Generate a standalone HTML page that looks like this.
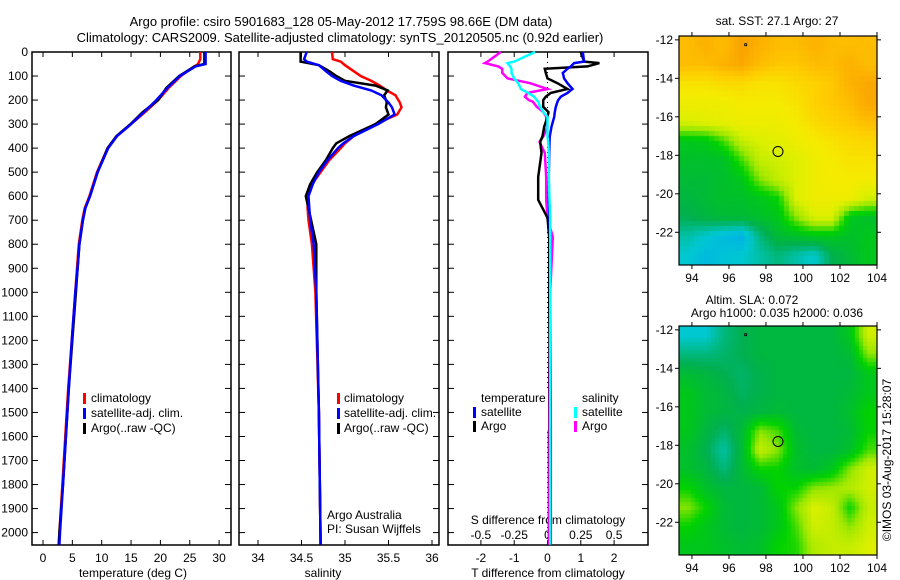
<!DOCTYPE html>
<html><head><meta charset="utf-8">
<style>
html,body{margin:0;padding:0;background:#fff;}
body{width:900px;height:580px;overflow:hidden;position:relative;font-family:"Liberation Sans",sans-serif;}
svg{position:absolute;left:0;top:0;}
canvas{position:absolute;}
text{font-family:"Liberation Sans",sans-serif;font-size:12px;fill:#000;}
</style></head>
<body>
<canvas id="map1" width="198" height="229" style="left:679px;top:36px"></canvas>
<canvas id="map2" width="198" height="229" style="left:679px;top:326px"></canvas>
<svg id="fig" width="900" height="580"></svg>
<script>
// ---------- data ----------
const tDepth = [0,30,50,60,100,150,200,250,300,350,400,500,600,650,700,800,900,1000,1200,1400,1600,1800,2000,2050];
const tClim  = [26.8,26.8,26.4,25.8,23.5,21.4,19.6,17.4,15.0,12.6,11.0,9.2,7.9,7.1,6.7,6.1,5.8,5.5,4.9,4.3,3.8,3.3,2.8,2.7];
const tSat   = [27.7,27.7,27.7,26.0,23.3,21.2,19.3,17.2,15.0,12.6,11.1,9.3,8.0,7.2,6.8,6.2,5.9,5.5,4.9,4.4,3.9,3.4,2.9,2.8];
const tArgo  = [27.5,27.5,27.5,25.8,23.2,21.0,19.6,17.0,14.9,12.5,11.0,9.3,8.0,7.2,6.8,6.2,5.9,5.6,5.0,4.4,3.9,3.4,2.8,2.7];

const sDepth = [0,30,40,55,80,100,120,140,160,180,210,230,260,300,350,380,400,450,500,550,600,650,700,800,1000,1500,2050];
const sClim  = [34.85,34.86,34.95,35.0,35.1,35.18,35.3,35.4,35.48,35.58,35.63,35.65,35.6,35.35,35.1,35.0,34.95,34.82,34.72,34.62,34.57,34.57,34.58,34.62,34.66,34.7,34.72];
const sSat   = [34.56,34.53,34.56,34.7,34.78,34.85,34.95,35.1,35.3,35.42,35.5,35.54,35.57,35.38,35.1,34.98,34.92,34.8,34.7,34.63,34.58,34.59,34.6,34.64,34.67,34.7,34.72];
const sArgo  = [34.49,34.49,34.49,34.7,34.82,34.9,35.0,35.35,35.49,35.45,35.48,35.47,35.5,35.35,35.05,34.9,34.86,34.78,34.68,34.6,34.55,34.58,34.61,34.67,34.67,34.7,34.72];

const dDepth   = [0,40,46,60,70,87,110,130,154,170,186,200,207,228,250,270,311,350,374,420,520,615,690,770,1000,1500,2050];
const dTSat    = [1.06,1.1,0.8,0.7,0.6,0.46,0.5,0.6,0.75,0.6,0.4,0.32,0.3,0.25,0.22,0.2,0.12,0.07,0.06,0.05,0.04,0.04,0.06,0.08,0.08,0.1,0.1];
const dTArgo   = [1.0,1.1,1.56,1.2,-0.08,-0.05,0.0,0.3,0.6,0.1,-0.05,-0.13,-0.13,-0.13,0.03,0.0,-0.1,-0.15,-0.22,-0.18,-0.28,-0.28,0.0,0.05,0.05,0.07,0.08];
const dSSat    = [-0.093,-0.25,-0.30,-0.28,-0.27,-0.27,-0.25,-0.22,-0.2,-0.145,-0.1,-0.08,-0.07,-0.056,-0.03,0.0,0.0,0.0,0.005,0.01,0.01,0.015,0.02,0.02,0.02,0.02,0.02];
const dSArgo   = [-0.35,-0.45,-0.47,-0.37,-0.34,-0.34,-0.3,-0.13,0.0,-0.15,-0.17,-0.14,-0.11,-0.08,-0.03,-0.01,0.0,-0.03,-0.06,-0.02,-0.01,-0.01,0.0,0.04,0.02,0.01,0.01];

const tTicks = [0,5,10,15,20,25,30];
const sTicks = [34,34.5,35,35.5,36];
const dTTicks = [-2,-1,0,1,2];
const dSTicks = [-0.5,-0.25,0,0.25,0.5];
const depthTicks = [0,100,200,300,400,500,600,700,800,900,1000,1100,1200,1300,1400,1500,1600,1700,1800,1900,2000];
const lonTicks = [94,96,98,100,102,104];
const latTicks = [-12,-14,-16,-18,-20,-22];

const sstGrid = [
[0.90,0.92,0.90,0.95,0.92,0.90,0.90,0.92,0.90,0.90,0.90],
[0.90,0.90,0.92,0.94,0.90,0.88,0.88,0.90,0.90,0.92,0.90],
[0.82,0.82,0.84,0.84,0.82,0.82,0.84,0.86,0.88,0.92,0.94],
[0.78,0.78,0.78,0.80,0.80,0.80,0.82,0.86,0.88,0.90,0.94],
[0.72,0.74,0.76,0.78,0.78,0.78,0.80,0.84,0.86,0.88,0.90],
[0.45,0.46,0.55,0.68,0.72,0.74,0.78,0.80,0.82,0.84,0.85],
[0.42,0.42,0.42,0.55,0.68,0.70,0.72,0.78,0.80,0.82,0.82],
[0.40,0.40,0.42,0.45,0.60,0.68,0.72,0.78,0.80,0.80,0.80],
[0.38,0.40,0.42,0.42,0.45,0.50,0.72,0.78,0.78,0.78,0.70],
[0.35,0.38,0.40,0.40,0.42,0.45,0.60,0.72,0.72,0.45,0.42],
[0.25,0.20,0.15,0.12,0.30,0.40,0.42,0.45,0.45,0.42,0.45],
[0.20,0.15,0.18,0.20,0.25,0.30,0.25,0.20,0.35,0.40,0.45]];
const slaGrid = [
[0.20,0.20,0.30,0.35,0.38,0.38,0.38,0.38,0.38,0.45,0.70],
[0.30,0.30,0.32,0.35,0.38,0.38,0.38,0.38,0.38,0.40,0.60],
[0.40,0.38,0.35,0.32,0.36,0.38,0.38,0.38,0.38,0.38,0.45],
[0.45,0.40,0.38,0.33,0.36,0.38,0.38,0.38,0.38,0.40,0.45],
[0.45,0.40,0.38,0.36,0.38,0.40,0.38,0.38,0.38,0.42,0.50],
[0.45,0.38,0.32,0.40,0.60,0.55,0.40,0.38,0.38,0.40,0.50],
[0.42,0.35,0.25,0.40,0.68,0.60,0.42,0.38,0.38,0.42,0.55],
[0.42,0.38,0.30,0.40,0.50,0.50,0.42,0.40,0.45,0.60,0.70],
[0.50,0.42,0.38,0.38,0.40,0.50,0.50,0.60,0.62,0.65,0.70],
[0.60,0.50,0.40,0.38,0.40,0.45,0.60,0.72,0.68,0.50,0.68],
[0.50,0.45,0.40,0.38,0.40,0.45,0.55,0.70,0.68,0.60,0.70],
[0.45,0.45,0.42,0.40,0.42,0.50,0.52,0.65,0.68,0.68,0.72]];
const argoPos = [98.65,-17.8];

// ---------- helpers ----------
const NS="http://www.w3.org/2000/svg";
const svg=document.getElementById('fig');
function mk(tag,attrs,parent){const e=document.createElementNS(NS,tag);for(const k in attrs)e.setAttribute(k,attrs[k]);(parent||svg).appendChild(e);return e;}
function txt(x,y,s,anchor,parent,size){const t=mk('text',{x:x,y:y,'text-anchor':anchor||'start'},parent);if(size)t.style.fontSize=size+'px';t.textContent=s;return t;}
const yD = d => 52 + d*0.2403;
const PTOP=52, PBOT=545;

function panel(name,x0,x1){
  const g=mk('g',{});
  
  
  mk('rect',{x:x0,y:PTOP,width:x1-x0,height:PBOT-PTOP,fill:'none',stroke:'#000','stroke-width':1.5},g);
  depthTicks.forEach(d=>{const y=yD(d);mk('line',{x1:x0,x2:x0+6,y1:y,y2:y,stroke:'#000'},g);mk('line',{x1:x1-6,x2:x1,y1:y,y2:y,stroke:'#000'},g);});
  return g;
}
function line(g,xs,ds,fx,color,name,w){
  const p=xs.map((v,i)=>fx(v).toFixed(1)+','+yD(ds[i]).toFixed(1)).join(' ');
  const l=mk('polyline',{points:p,fill:'none',stroke:color,'stroke-width':w||2.5,'stroke-linejoin':'miter'},g);
  
  
}
function legendMark(g,x,y,color){mk('rect',{x:x,y:y-9,width:3,height:11,fill:color},g);}

// titles
const tt=mk('g',{});


txt(341,26,'Argo profile: csiro 5901683_128 05-May-2012 17.759S 98.66E (DM data)','middle',tt,13);
txt(340,42,'Climatology: CARS2009. Satellite-adjusted climatology: synTS_20120505.nc (0.92d earlier)','middle',tt,13);

// ---- panel 1: temperature ----
const fT = v => 43 + v*5.87;
const g1=panel('temperature-panel',32,231);
depthTicks.forEach(d=>{txt(28,yD(d)+4,String(d),'end',g1,12);});
tTicks.forEach(v=>{const x=fT(v);mk('line',{x1:x,x2:x,y1:PBOT,y2:PBOT-5,stroke:'#000'},g1);mk('line',{x1:x,x2:x,y1:PTOP,y2:PTOP+5,stroke:'#000'},g1);txt(x,562,String(v),'middle',g1);});
txt(133,577,'temperature (deg C)','middle',g1);
line(g1,tClim,tDepth,fT,'#ff0000','temp-climatology-line');
line(g1,tArgo,tDepth,fT,'#000000','temp-argo-line');
line(g1,tSat,tDepth,fT,'#0000ff','temp-satellite-line');
legendMark(g1,83,402,'#ff0000');txt(91,402,'climatology','start',g1);
legendMark(g1,83,417,'#0000ff');txt(91,417,'satellite-adj. clim.','start',g1);
legendMark(g1,83,432,'#000000');txt(91,432,'Argo(..raw -QC)','start',g1);

// ---- panel 2: salinity ----
const fS = v => 258 + (v-34)*87;
const g2=panel('salinity-panel',239,439);
sTicks.forEach(v=>{const x=fS(v);mk('line',{x1:x,x2:x,y1:PBOT,y2:PBOT-5,stroke:'#000'},g2);mk('line',{x1:x,x2:x,y1:PTOP,y2:PTOP+5,stroke:'#000'},g2);txt(x,562,String(v),'middle',g2);});
txt(323,577,'salinity','middle',g2);
line(g2,sClim,sDepth,fS,'#ff0000','sal-climatology-line');
line(g2,sArgo,sDepth,fS,'#000000','sal-argo-line');
line(g2,sSat,sDepth,fS,'#0000ff','sal-satellite-line');
legendMark(g2,337,402,'#ff0000');txt(344,402,'climatology','start',g2);
legendMark(g2,337,417,'#0000ff');txt(344,417,'satellite-adj. clim.','start',g2);
legendMark(g2,337,432,'#000000');txt(344,432,'Argo(..raw -QC)','start',g2);
txt(327,519,'Argo Australia','start',g2);
txt(327,533,'PI: Susan Wijffels','start',g2);

// ---- panel 3: differences ----
const fDT = v => 547.5 + v*33.3;
const fDS = v => 547.5 + v*133.2;
const g3=panel('difference-panel',448,648);
mk('line',{x1:fDT(0),x2:fDT(0),y1:PTOP,y2:PBOT,stroke:'#000','stroke-dasharray':'1,4'},g3);
dTTicks.forEach(v=>{const x=fDT(v);mk('line',{x1:x,x2:x,y1:PBOT,y2:PBOT-5,stroke:'#000'},g3);txt(x,562,String(v),'middle',g3);});
dSTicks.forEach(v=>{const x=fDS(v);mk('line',{x1:x,x2:x,y1:PTOP,y2:PTOP+5,stroke:'#000'},g3);txt(x,539,String(v),'middle',g3);});
txt(548,524,'S difference from climatology','middle',g3);
txt(548,577,'T difference from climatology','middle',g3);
line(g3,dSArgo,dDepth,fDS,'#ff00ff','s-diff-argo-line');
line(g3,dTArgo,dDepth,fDT,'#000000','t-diff-argo-line');
line(g3,dTSat,dDepth,fDT,'#0000ff','t-diff-satellite-line');
line(g3,dSSat,dDepth,fDS,'#00ffff','s-diff-satellite-line');
const lg=mk('g',{},g3);


mk('rect',{x:478,y:388,width:70,height:42,fill:'#fff'},lg);
mk('rect',{x:578,y:388,width:50,height:42,fill:'#fff'},lg);
txt(481,402,'temperature','start',lg);
legendMark(lg,473,416,'#0000ff');txt(481,416,'satellite','start',lg);
legendMark(lg,473,430,'#000000');txt(481,430,'Argo','start',lg);
txt(582,402,'salinity','start',lg);
legendMark(lg,574,416,'#00ffff');txt(582,416,'satellite','start',lg);
legendMark(lg,574,430,'#ff00ff');txt(582,430,'Argo','start',lg);

// ---- maps ----
const cmStops=[[0,[0,144,255]],[0.2,[0,200,210]],[0.35,[0,176,80]],[0.5,[0,210,0]],[0.62,[160,232,0]],[0.72,[220,240,0]],[0.8,[245,235,0]],[0.87,[255,205,0]],[0.93,[252,172,0]],[1,[240,140,0]]];
function cmap(v){for(let i=1;i<cmStops.length;i++){if(v<=cmStops[i][0]){const a=cmStops[i-1],b=cmStops[i];const t=(v-a[0])/(b[0]-a[0]);return a[1].map((c,k)=>Math.round(c+(b[1][k]-c)*t));}}return cmStops[cmStops.length-1][1];}
const LON0=93.3,LON1=104,LAT0=-11.8,LAT1=-23.7;
function drawMap(id,grid,cell){
  const c=document.getElementById(id),ctx=c.getContext('2d');
  const W=c.width,H=c.height,R=grid.length,C=grid[0].length;
  for(let y=0;y<H;y+=cell)for(let x=0;x<W;x+=cell){
    const gx=Math.min(Math.max((x+cell/2)/W*C-0.5,0),C-1.001), gy=Math.min(Math.max((y+cell/2)/H*R-0.5,0),R-1.001);
    const i=Math.floor(gy),j=Math.floor(gx),fy=gy-i,fx=gx-j;
    const v=grid[i][j]*(1-fx)*(1-fy)+grid[i][j+1]*fx*(1-fy)+grid[i+1][j]*(1-fx)*fy+grid[i+1][j+1]*fx*fy;
    const col=cmap(v);ctx.fillStyle='rgb('+col.join(',')+')';ctx.fillRect(x,y,cell,cell);
  }
}
drawMap('map1',sstGrid,5);
drawMap('map2',slaGrid,4);
function mapAxes(name,top){
  const g=mk('g',{});
  
  
  const x0=679,x1=877,y0=top,y1=top+229;
  const fx=v=>x0+(v-LON0)/(LON1-LON0)*(x1-x0);
  const fy=v=>y0+(v-LAT0)/(LAT1-LAT0)*(y1-y0);
  mk('rect',{x:x0,y:y0,width:x1-x0,height:y1-y0,fill:'none',stroke:'#000','stroke-width':1.2},g);
  lonTicks.forEach(v=>{const x=fx(v);mk('line',{x1:x,x2:x,y1:y1,y2:y1+4,stroke:'#000'},g);mk('line',{x1:x,x2:x,y1:y0,y2:y0-4,stroke:'#000'},g);txt(x,y1+17,String(v),'middle',g);});
  latTicks.forEach(v=>{const y=fy(v);mk('line',{x1:x0,x2:x0-4,y1:y,y2:y,stroke:'#000'},g);mk('line',{x1:x1,x2:x1+4,y1:y,y2:y,stroke:'#000'},g);txt(x0-6,y+4,String(v),'end',g);});
  const c=mk('circle',{cx:fx(argoPos[0]),cy:fy(argoPos[1]),r:5,fill:'none',stroke:'#000','stroke-width':1},g);
  
  
  mk('rect',{x:fx(96.85),y:fy(-12.2),width:2,height:2,fill:'none',stroke:'#000','stroke-width':0.8},g);
  return g;
}
const m1=mapAxes('sst-map-axes',36);
txt(777,25,'sat. SST: 27.1  Argo: 27','middle',m1);
const m2=mapAxes('sla-map-axes',326);
txt(752,304,'Altim. SLA: 0.072','middle',m2);
txt(777,317,'Argo h1000: 0.035 h2000: 0.036','middle',m2);
const cr=txt(0,0,'\u00a9IMOS 03-Aug-2017 15:28:07','middle');
cr.setAttribute('transform','translate(891,460) rotate(-90)');


</script>
</body></html>
